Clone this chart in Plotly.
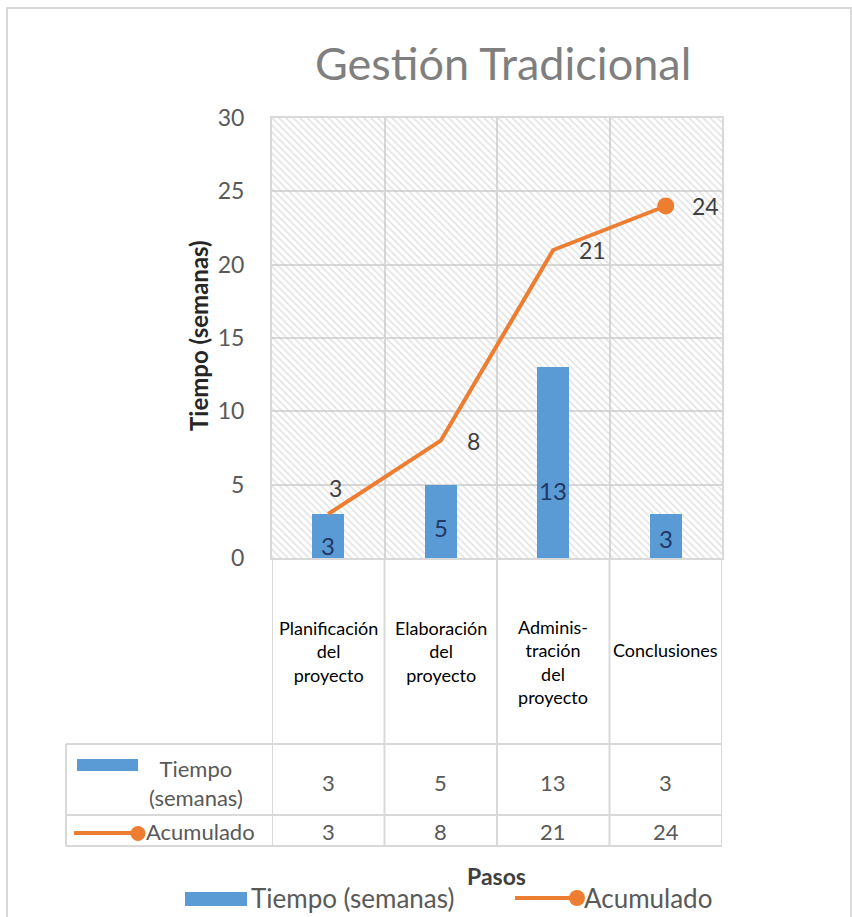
import plotly.graph_objects as go

# ---- data ---------------------------------------------------------------
title_text = "Gestión Tradicional"
categories = ["Planificación del proyecto", "Elaboración del proyecto",
              "Administración del proyecto", "Conclusiones"]
category_labels = ["Planificación<br>del<br>proyecto", "Elaboración<br>del<br>proyecto",
                   "Adminis-<br>tración<br>del<br>proyecto", "Conclusiones"]
tiempo = [3, 5, 13, 3]
acumulado = [3, 8, 21, 24]
y_ticks = [0, 5, 10, 15, 20, 25, 30]
series_names = ["Tiempo (semanas)", "Acumulado"]
table_row_labels = ["Tiempo<br>(semanas)", "Acumulado"]
x_title = "Pasos"
y_title = "Tiempo (semanas)"

# ---- style --------------------------------------------------------------
FONT = "Lato"
BLUE = "#5B9BD5"
ORANGE = "#ED7D31"
GRID = "#D9D9D9"
TXT = "#595959"
Y_MAX = y_ticks[-1]

# page geometry (pixels) -> paper coordinates
W, H = 852, 917
L, R, T, B = 272, 722, 118, 558


def px(x):
    return (x - L) / (R - L)


def py(y):
    return (B - y) / (B - T)


def note(x, y, text, size, color, xref="paper", yref="paper", xanchor="center",
         yanchor="middle", **kw):
    font = dict(family=FONT, size=size, color=color)
    if "weight" in kw:
        font["weight"] = kw.pop("weight")
    return dict(x=x, y=y, xref=xref, yref=yref, text=text, showarrow=False,
                xanchor=xanchor, yanchor=yanchor, font=font, **kw)


# per-label placement for bar values (pixel lift above the bar base) and line values
bar_label_lift = [13, 31, 68, 20]
line_label_side = ["above", "right", "right", "right"]

fig = go.Figure()

# hatched plot-area background
fig.add_trace(go.Bar(
    x=categories, y=[Y_MAX] * len(categories), width=1,
    marker=dict(color="rgba(0,0,0,0)", line_width=0,
                pattern=dict(shape="\\", fgcolor="#C4C4C4", size=5, solidity=0.3)),
    hoverinfo="skip", showlegend=False))

fig.add_trace(go.Bar(
    x=categories, y=tiempo, width=0.285, name=series_names[0],
    marker=dict(color=BLUE, line_width=0), showlegend=False))

fig.add_trace(go.Scatter(
    x=categories, y=acumulado, name=series_names[1], mode="lines+markers",
    line=dict(color=ORANGE, width=4),
    marker=dict(color=ORANGE, size=[0, 0, 0, 17], opacity=1, line=dict(width=0)),
    showlegend=False))

annotations = []

# bar value labels
for c, v, lift in zip(categories, tiempo, bar_label_lift):
    annotations.append(note(c, 0, str(v), 24, "#203864", xref="x", yref="y", yshift=lift))

# cumulative value labels
for c, v, side in zip(categories, acumulado, line_label_side):
    if side == "above":
        annotations.append(note(c, v, str(v), 23, "#404040", xref="x", yref="y",
                                xshift=7, yshift=26))
    else:
        annotations.append(note(c, v, str(v), 23, "#404040", xref="x", yref="y",
                                xanchor="left", xshift=24))

# title and axis titles
annotations.append(note(px(503), py(63), title_text, 45, "#7F7F7F"))
annotations.append(note(px(198), py(336), y_title, 24, "#262626", textangle=-90,
                        weight="bold"))
annotations.append(note(px(496), py(876), x_title, 23, "#404040", weight="bold"))

# data table: category header row
cat_label_y = [651, 651, 662, 650]
for c, lab, yy in zip(categories, category_labels, cat_label_y):
    annotations.append(note(c, py(yy), lab, 18, "#000000", xref="x"))

# data table: value rows
row_y = [782, 832]
for series, yy in zip([tiempo, acumulado], row_y):
    for c, v in zip(categories, series):
        annotations.append(note(c, py(yy), str(v), 22, TXT, xref="x"))

# data table: row labels with legend keys
annotations.append(note(px(196), py(783), table_row_labels[0], 22, TXT))
annotations.append(note(px(144), py(832), table_row_labels[1], 22, TXT, xanchor="left"))

# bottom legend
annotations.append(note(px(249), py(898), series_names[0], 26, TXT, xanchor="left"))
annotations.append(note(px(582), py(898), series_names[1], 26, TXT, xanchor="left"))

shapes = []
line_style = dict(color=GRID, width=2)

# outer chart frame
shapes.append(dict(type="rect", xref="paper", yref="paper", x0=px(7), x1=px(851),
                   y0=py(1000), y1=py(8), line=line_style, layer="below"))

# table grid
TABLE_TOP, TABLE_MID, TABLE_BOT, TABLE_LEFT = 744, 815, 846, 66
for yy in [TABLE_TOP, TABLE_MID, TABLE_BOT]:
    shapes.append(dict(type="line", xref="paper", yref="paper", x0=px(TABLE_LEFT), x1=1,
                       y0=py(yy), y1=py(yy), line=line_style))
shapes.append(dict(type="line", xref="paper", yref="paper", x0=px(TABLE_LEFT),
                   x1=px(TABLE_LEFT), y0=py(TABLE_TOP), y1=py(TABLE_BOT), line=line_style))
for i in range(len(categories) + 1):
    shapes.append(dict(type="line", xref="x", yref="paper", x0=i - 0.5, x1=i - 0.5,
                       y0=0, y1=py(TABLE_BOT), line=line_style))

# legend keys inside the table
shapes.append(dict(type="rect", xref="paper", yref="paper", x0=px(77), x1=px(138),
                   y0=py(771), y1=py(759), fillcolor=BLUE, line_width=0))
shapes.append(dict(type="line", xref="paper", yref="paper", x0=px(74), x1=px(138),
                   y0=py(833), y1=py(833), line=dict(color=ORANGE, width=4)))
shapes.append(dict(type="circle", xref="paper", yref="paper", x0=px(130.5), x1=px(145.5),
                   y0=py(841), y1=py(826), fillcolor=ORANGE, line_width=0))

# legend keys at the bottom
shapes.append(dict(type="rect", xref="paper", yref="paper", x0=px(185), x1=px(247),
                   y0=py(906), y1=py(892), fillcolor=BLUE, line_width=0))
shapes.append(dict(type="line", xref="paper", yref="paper", x0=px(515), x1=px(577),
                   y0=py(898), y1=py(898), line=dict(color=ORANGE, width=4)))
shapes.append(dict(type="circle", xref="paper", yref="paper", x0=px(569), x1=px(585),
                   y0=py(906), y1=py(890), fillcolor=ORANGE, line_width=0))

fig.update_layout(
    width=W, height=H,
    margin=dict(l=L, r=W - R, t=T, b=H - B, pad=0),
    paper_bgcolor="white", plot_bgcolor="white",
    barmode="overlay", bargap=0,
    showlegend=False,
    font=dict(family=FONT, color=TXT),
    annotations=annotations, shapes=shapes,
    xaxis=dict(type="category", range=[-0.5, len(categories) - 0.5],
               showgrid=True, gridcolor=GRID, gridwidth=2, tickson="boundaries",
               showticklabels=False, ticks="", zeroline=False,
               showline=True, mirror=True, linecolor=GRID, linewidth=2),
    yaxis=dict(range=[0, Y_MAX], tickvals=y_ticks, showgrid=True, gridcolor=GRID,
               gridwidth=2, zeroline=False, ticks="", ticklabelstandoff=21,
               tickfont=dict(family=FONT, size=23, color=TXT),
               showline=True, mirror=True, linecolor=GRID, linewidth=2),
)

fig.write_html("out.html")
